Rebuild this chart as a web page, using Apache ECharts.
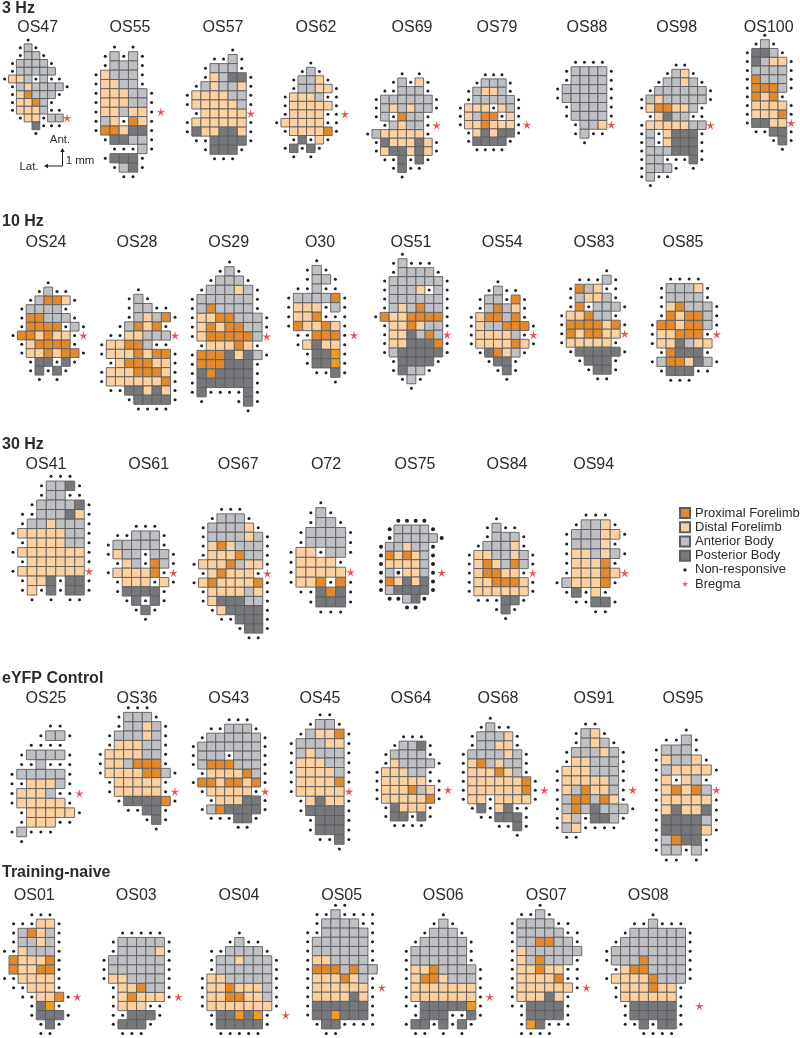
<!DOCTYPE html>
<html><head><meta charset="utf-8">
<style>html,body{margin:0;padding:0;background:#fff}#c{width:800px;height:1038px}</style>
<script src="https://cdn.jsdelivr.net/npm/echarts@6/dist/echarts.min.js"></script>
</head><body><div id="c"></div>
<script>
// Codes: P proximal forelimb (Q: same class, brighter print), D distal forelimb, A anterior body, B posterior body, o non-responsive, * bregma
const OS47=["...o","..oAo","..oAAo",".oAAAAo",".oAAAAA.","oDDAoAoo",".oADAAAAo",".oDPAAAo",".oDDPAo",".oDDDAoo","..oDDoAA*","....Booo","....o"];
const OS55=["..o.o",".oAoAo",".oAAAo","oDAAAo","oDDAAo","oDDDAAo","oDDDAAo","oDDADDo*","oADoPDo","oPPDBBo",".oBBAAo","..oooAo",".oBBBo","..oABo","...oo"];
const OS57=[".....o","...ooAo","..oAAAo","..oDABBo",".oADAADo","oDDDDAAo","oDDDDDAo",".oDDDDD*","oDDDDDDo","oBDDBBDo",".ooBBBBo","..oBBBo","...ooo"];
const OS62=["....o","...oAo","..oAADo","..oAADDo",".oDDDAoo",".oDDDDDo",".oDDDDoo*","oDDDDDoo",".oDDDDPo","..oBoDo",".oBoBo","..o.o"];
const OS69=["....o.o","...oAoDo","..ooAAAo",".oAAAAAAo",".oADADAAo",".oAoPAAo","..oADAAo*","oADDDDDo",".oBDDDBDo",".oDBBDBDo","..ooBoBo","...oBoo","....o"];
const OS79=["...ooo","..oAAAo",".oADDAo",".oAAAAAo","oDDDoDAo","oDAPPoDo","oDDPDDDo*",".oDBDBBo",".oBBBBo","..oooo"];
const OS88=["..oooo",".oAAAAo",".oAAAAo","oAAAAAo","oAAAAAo",".oAAAAo",".oAAAAo","..oAAD*","..oAoo","...o"];
const OS98=["....oo","...oADo","..oAADAo",".oAAAAAAo","oADAAAAAo","oDPPDDAo",".oDBAAoo","oDDDDDAA*","oAoDBBBo","oAoDBBBo","oAAABBBo","oAAoooBo","oAAAo.o","oAoo",".o"];
const OS100=["..o",".oAo","oBBAo","oBADDo","oAAAAo","oPAAAo","oPPPAo","oPDPo","oDDDDo","oDDDPo","oBBDD*",".ooBBo","...oBo","....o"];
const OS24=["....o","...oAoo","..oAPPDo",".oAAAAo",".oPPAAAo",".oPPPPoAo","oPPDPDDo*",".oDPPPPo",".oDDPDPPo","..oBBoBo","..oBoBo","...o.o"];
const OS28=["....o","...oAo","...oAAoo","...oADAPo","..oAPDPo",".ooDDAAA*","oDDPPAoo","oDDDPDPPo",".oDPPPDDo","oDDDPPPDo","oDDDDDDPo",".ooBBDBDo","...oBBBBo","....oooo"];
const OS29=["....o","...oAo","..oAAAo",".oAAADAo","oAAAAAAo","oAPAAAAo","oDDPPAAAo","oDPDPPAAo","oDPPPPPA*",".oDDDPDo","oPPPBDBAo","oPPPBBBo","oBPBBBBo","oBBBBBBo","oBooooBo",".o...oBo","......o"];
const O30=["...o","..oAo","..oAAo",".ooAoo","oAAAAPo","oDDDoAo","oDDPooo","oPDDPDo",".ooPPPo*",".oDBDDo","..oBBQo","..oBBQo","...ooBo",".....o"];
const OS51=["...o","..oAooo","..oAAAAo",".oAAAAAAo",".oAAADoAo",".oAAAAAAo",".oADAPAAo","oPDDPPPPo",".oDDPDAAo",".oDDBAPA*",".oDDBBBPo",".oABBBBBo","..oBBBBo","..oBAAo","...oAo","....o"];
const OS54=["...o","..oAoo",".oAAoPo",".oAPADo","oDPPAPo","oDAAPPPo","oDDDDAo*","oDDDDPDo",".oBPDAo","..oBBo","...oBo","....o"];
const OS83=[".....o","..oooAo",".oPADoo",".oADDAo",".oPoAAAo","oDDPAAo","oPPPPDPo","oPDPPDD*","oDDDDDo",".oBBBBBo","..oBBBo","...oBBo","....oo"];
const OS85=["..oooo",".oAAADo",".oAAAAo",".oDPAAAo",".oPDPPAo","oPPDPPAo","oDDPPPo*","oDDBADD",".oPBBBo","oAPPDBAo",".oBBBoo","..ooo"];
const OS41=["....ooo","...oAABo","...oAAoo","..oAAAABo",".ooAAABDo",".oAADAAAo","oDDDDDAAo",".oDDDDAAo","oDDDDDDDo",".oDDDDDDo","oDDDDDDD*",".oDDBoBBo",".oDoBoBBo","..o.o.oo"];
const OS61=["...ooo",".ooAAAo","oAAAAAo","oDAAoAAo",".oDAoPAo","oDDDDPo*",".oDDDoDo",".oBBBBo","..oBoBo","...oBo","....o"];
const OS67=["...ooo","..oAAAo",".oAAAADo",".oAAAADAo",".oDPDAAAo",".oDDDPAAo","oDDDPADDo",".oDPDDDo*","oDPDDDDPo",".oDDDDADo",".oDBBBAAo","..oDBBBBo","...ooBBBo",".....oBBo","......oo"];
const O72=["...o","..oAo","..oAAo",".oAAAAo",".oAAAAo","oDDoAAo","oDDDDo","oDDDDD*","oDDPoPo",".ooBPBo","..oBBBo","...ooo"];
const OS75=["..oooo",".oAAAAo",".oAAAAAo","oAADAAo","oPDPDAo","oDDDDAo","oAoDDAo*","oPDBDBo","oABBBBo",".ooABo","...oo"];
const OS84=["...o","..oAoo","..oAAAo",".oAAADo","oDDAADAo","oDPDAPAo","oDPPDDo*","oDDPPPDo","oDDDDDDo",".oooBBo","...oBo","....o"];
const OS94=["...ooo","..oAADo",".oAAADDo",".oAAADo",".oDDADAo",".oDDDPo",".oDDDPD*","oADDDPo",".oBoDo","..ooBBo","....oo"];
const OS25=["....oo","...oAAo","..oooo",".oAAAAo",".ooAooo","oAAAAAo","ooDDDAo","oDDDAoo*","oDDDDDo",".oDDDDDo",".oDDDoo","oAooo",".o"];
const OS36=["...ooo","..oAAAo","..oAADAo",".oAAADAo",".oDDDAAo","oDDDDAAo","oDDAPPPo","oDDDDPPAo",".oDDDDDo",".oDDDDDo*","..oBBBBPo","...ooBBo",".....oBo","......o"];
const OS43=["....ooo","..ooAAAo",".oAAAAAAo","oAAAAAAAo","oAAAoAAAo","oAPPPAAAo",".oDDDDPAo","oPPDPPDPo",".oDDDDDo*","..oDDDBBo",".oAPBBBBo","..oooBBo",".....oo"];
const OS45=["...oo","..oAAo",".oADDPo","oAAADDo","oADAAAo","oDDDAAo","oDDDDAo","oDDDDPo","oDDDDD*",".oDBDDo",".oBBBBo","..oBBBo","..oBBBo","...ooBo",".....o"];
const OS64=["...ooo","..oAABo",".oAAAAo",".oDAAAAo","oDDDAAo","oDDDDDoo","oDDDPADo*","oDDDDDPo",".oBDDDo",".oBBoBo","..oooo"];
const OS68=["...o","..oAoo",".oAAADo",".oAADDo","oAAAADAo","oDPADAAo","oDDDPDAo","oDDDDDDPo","oDDDDDDPo*","oDDoDDDDo",".oBoDBoo","..ooBBBo","....ooBo","......o"];
const OS91=["...oo","..oADo","..oADAo",".oAAADAo",".oDDAAAo","oDDDAAAo","oDDDDDAo","oDAPDDAo*","oAPPAPDo","oAPABAAAo","oDAoBBAo","oADoooo",".oo"];
const OS95=["...o",".ooAo","oAAAo","oDAADo","oADDDDo","oDoDAo","oDPDPA*","oDDDDDo","oDBDDBo","oBBBBAo","oBBBBDo","oAPBBo","oAAoAo",".oo.o"];
const OS01=["...ooo",".oooDDo",".oAPDAo",".oAADAo","ooDAAAo",".PDDDPo",".PDDPPo","ooDDDDo",".ooDDDo","..ooDDPo*","...oBQo","...oBBBo","....oBo","....oo"];
const OS03=["..ooooo",".oAAAAAo",".oAAAADo","oAAAAAAo","oAAAAAAo","oDDAAAAo",".oDDPAAo",".oDPDDDo*",".oDDDoo",".ooBBBo",".oBBBo","..ooo"];
const OS04=["....o","...oAoo",".ooAAAAo",".oAADAAAo",".oAAAAAAo","oDDAAAAAo","oDDPDDDAo","oDDPPDDAo","oDDDDDDDo",".oBBQBQo.*",".oBBBBBo","..ooooo"];
const OS05=["...oo",".ooAoooo",".oAAAAoo","ooAAAAAo","oAAAAAAo","oAAAAAAo","oDDAAAAo","oPPPAPAA","oDDDPDAo","oDDDDDDo*","oDDDDBDo","oBBBBBBo","oBBQBBBo",".oBBoooo","..oo"];
const OS06=["....o","...oAo","..oAAAo",".oAAAAAo","oAAAAAAo","oAAAAAAo","oDDPAAAAo","oDPPDAAAo","oDDDDDDDo","oDDDDDDDo*","ooBBBBBQo",".oBBBooBo","oBBoBoBo",".oo.o.o"];
const OS07=["...o",".ooAo","oAAAAoo","oAAAAAoo","oAAPPAAo","oDAAAAAA","oDAPAAAo","oDDPDDoo","oDDDDPoo","oDDDDDDo*","oDDDBDo","ooBBBBo",".oBBBBo",".oQBooo",".oooo"];
const OS08=[".....o","...ooAooo","..oAAAAAAo",".oAAAAAAAo","oAAAAAAAAo","oAAAPAAAAo",".oDPPAAAAo","oDDDDPAAAo",".oDDDPDDo",".oDDDDDDo","..oBBBBBo.*","..oBBBBBo","..ooBoBBo","....oooo"];

const panelNames=["OS47","OS55","OS57","OS62","OS69","OS79","OS88","OS98","OS100","OS24","OS28","OS29","O30","OS51","OS54","OS83","OS85","OS41","OS61","OS67","O72","OS75","OS84","OS94","OS25","OS36","OS43","OS45","OS64","OS68","OS91","OS95","OS01","OS03","OS04","OS05","OS06","OS07","OS08"];
const panelRows=[OS47,OS55,OS57,OS62,OS69,OS79,OS88,OS98,OS100,OS24,OS28,OS29,O30,OS51,OS54,OS83,OS85,OS41,OS61,OS67,O72,OS75,OS84,OS94,OS25,OS36,OS43,OS45,OS64,OS68,OS91,OS95,OS01,OS03,OS04,OS05,OS06,OS07,OS08];
const groupHeadings=["3 Hz","10 Hz","30 Hz","eYFP Control","Training-naive"];
const categoryNames={P:"Proximal Forelimb",Q:"Proximal Forelimb",D:"Distal Forelimb",A:"Anterior Body",B:"Posterior Body",o:"Non-responsive","*":"Bregma"};

// layout only: first-cell centre x, y, cell size, title centre x, title centre y
const layout=[
[4.7,40,7.8,37.7,26.7],[96,47,9.27,130,26.7],[187.3,50,9.07,223,26.7],[276.7,63,8.53,316,26.7],[367.7,73.7,8.6,412,26.7],[460.3,74.7,8.33,497,26.7],[557.7,62.3,8.93,587,26.7],[641.7,65,8.6,676.7,26.7],[747.3,35.3,8.77,768.7,26.7],
[13,282.7,8.8,46,241.7],[101.7,289.7,9.17,137,241.7],[192.3,262,9.3,228.7,241.7],[288.7,260.7,9.33,320,241.7],[375.7,254.3,8.93,411,241.7],[471.3,281.7,8.87,502.3,241.7],[561.7,270.7,9,594,241.7],[652.3,279,9.2,683,241.7],
[13,476.3,9.5,46,464],[108.3,526.3,9.3,148.7,464],[194,509.3,9.17,238.3,464],[291,502.7,9.93,326,464],[381,520.7,8.67,415,464],[469.3,518.7,9.07,507,464],[557,515,9.67,593.7,464],
[12,726,9.63,46,698.3],[100.3,707.7,9.33,137,698.3],[193.3,719.7,8.97,228.7,698.3],[291.3,714.7,9.6,320,698.3],[377,736.7,8.87,411,698.3],[463.3,718.3,9,498,698.3],[557.3,724,9.43,594,698.3],[656.3,730,10,683,698.3],
[3,914.7,9.27,34.3,894.7],[104,933,9.3,136.3,894.7],[202.3,933,9.27,239,894.7],[307.7,905.3,9.27,341.7,894.7],[406.3,914.7,9.27,443.3,894.7],[512.3,905.3,9.27,546.3,894.7],[606.7,914.7,9.27,648.3,894.7]];
const headingY=[9,222,444.5,679,873];

const FONT="Liberation Sans";
const colors={P:"#E4892A",Q:"#F39A1E",D:"#FDD0A0",A:"#BEC0C4",B:"#77787B",o:"#231F20","*":"#EE4B50"};
function starPath(R,r){const n=[];for(let i=0;i<10;i++){const a=-Math.PI/2+i*Math.PI/5,q=i%2?r:R;n.push((50+q*Math.cos(a)).toFixed(1)+","+(50+q*Math.sin(a)).toFixed(1));}
 return "path://M"+n.join("L")+"Z";}
const STAR=starPath(50,15);
const STAR_LEGEND="path://M0,0L0,0M100,100L100,100M"+STAR.slice(8).replace(/(-?[\d.]+),(-?[\d.]+)/g,(m,x,y)=>(15+x*0.7).toFixed(1)+","+(15+y*0.7).toFixed(1));
const DOT_LEGEND="path://M0,0L0,0M100,100L100,100M33,50A17,17 0 1,1 67,50A17,17 0 1,1 33,50Z";

const grids=[],xAxes=[],yAxes=[],series=[],titles=[];
panelRows.forEach((rows,i)=>{
  const [x0,y0,cell,tx,ty]=layout[i];
  const ncols=Math.max(...rows.map(r=>r.length)),nrows=rows.length;
  grids.push({left:x0-cell/2,top:y0-cell/2,width:ncols*cell,height:nrows*cell});
  xAxes.push({type:"value",gridIndex:i,min:-0.5,max:ncols-0.5,show:false});
  yAxes.push({type:"value",gridIndex:i,min:-0.5,max:nrows-0.5,inverse:true,show:false});
  Object.keys(categoryNames).forEach(code=>{
    const data=[];
    rows.forEach((row,r)=>[...row].forEach((ch,c)=>{if(ch===code)data.push([c,r]);}));
    const s={type:"scatter",name:categoryNames[code],xAxisIndex:i,yAxisIndex:i,data,silent:true,animation:false,itemStyle:{color:colors[code],opacity:1}};
    if(code==="o"){s.symbol="circle";s.symbolSize=panelNames[i]==="OS75"?4:3;s.z=3;}
    else if(code==="*"){s.symbol=STAR;s.symbolSize=9;s.z=4;}
    else{s.symbol="rect";s.symbolSize=cell;s.itemStyle.borderColor="#5C5D60";s.itemStyle.borderWidth=0.9;s.z=2;}
    series.push(s);
  });
  titles.push({text:panelNames[i],left:tx,top:ty-8.5,textAlign:"center",padding:0,textStyle:{fontFamily:FONT,fontSize:16,fontWeight:"normal",color:"#2b2b2b",lineHeight:18}});
});
groupHeadings.forEach((h,i)=>titles.push({text:h,left:2,top:headingY[i]-9,padding:0,textStyle:{fontFamily:FONT,fontSize:16,fontWeight:"bold",color:"#2b2b2b",lineHeight:18}}));

const txt=(t,x,y)=>({type:"text",style:{text:t,x,y,font:"11.5px "+FONT,fill:"#2b2b2b",align:"center",verticalAlign:"middle"}});
const graphic=[
 txt("Ant.",60,140),txt("Lat.",29,166.5),txt("1 mm",80,160.5),
 {type:"polyline",shape:{points:[[48,166],[62.5,166],[62.5,151]]},style:{stroke:"#231F20",lineWidth:1,fill:null}},
 {type:"polygon",shape:{points:[[60.3,152],[64.7,152],[62.5,148]]},style:{fill:"#231F20"}},
 {type:"polygon",shape:{points:[[48,163.8],[48,168.2],[44,166]]},style:{fill:"#231F20"}}
];

const chart=echarts.init(document.getElementById("c"),null,{renderer:"canvas"});
chart.setOption({
  animation:false,backgroundColor:"#fff",title:titles,grid:grids,xAxis:xAxes,yAxis:yAxes,series,graphic,
  legend:{orient:"vertical",left:679,top:506,padding:0,itemWidth:10,itemHeight:10,itemGap:0,selectedMode:false,
    textStyle:{fontFamily:FONT,fontSize:13,color:"#2b2b2b",lineHeight:14.2,height:14.2},
    data:[{name:categoryNames.P,icon:"rect"},{name:categoryNames.D,icon:"rect"},{name:categoryNames.A,icon:"rect"},{name:categoryNames.B,icon:"rect"},{name:categoryNames.o,icon:DOT_LEGEND},{name:categoryNames["*"],icon:STAR_LEGEND}]}
});
</script></body></html>
